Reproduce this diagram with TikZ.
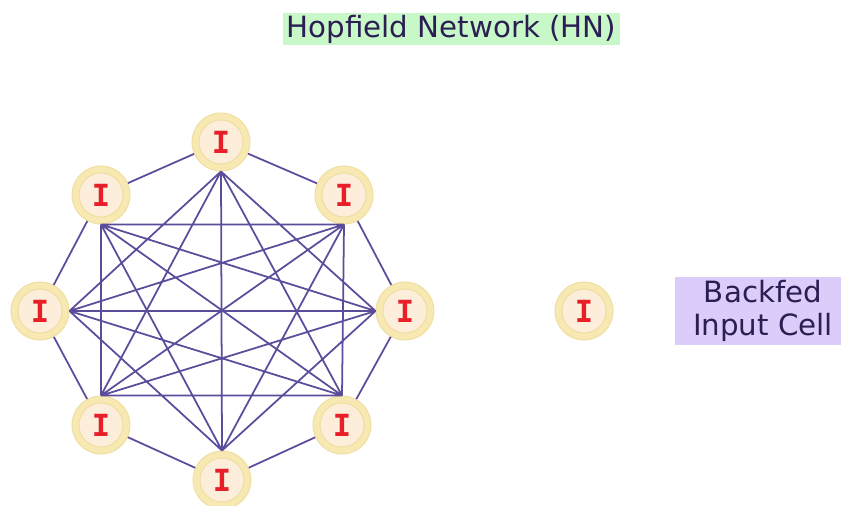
\documentclass[tikz,border=0pt]{standalone}
\usepackage{fontspec}
\setmainfont{DejaVu Sans}
\newfontfamily\cellfont{DejaVu Sans Mono}
\definecolor{edgecol}{RGB}{92,76,156}
\definecolor{ringout}{RGB}{238,222,160}
\definecolor{ringfill}{RGB}{248,232,178}
\definecolor{corefill}{RGB}{252,238,218}
\definecolor{coreline}{RGB}{238,222,160}
\definecolor{cellred}{RGB}{232,30,40}
\definecolor{titlebg}{RGB}{200,248,200}
\definecolor{labelbg}{RGB}{220,204,250}
\definecolor{inkcol}{RGB}{42,30,82}
\tikzset{
  cell/.style={circle, minimum size=1.74cm, inner sep=0pt,
    fill=ringfill, draw=ringout, line width=0.8pt,
    path picture={\draw[coreline, line width=0.8pt, fill=corefill]
      (path picture bounding box.center) circle (0.66cm);},
    font=\cellfont\bfseries\fontsize{26}{26}\selectfont, text=cellred},
  link/.style={draw=edgecol, line width=1.5pt},
  caption/.style={font=\fontsize{25}{28}\selectfont, text=inkcol, align=center}
}
\begin{document}
\begin{tikzpicture}[x=0.03cm,y=-0.03cm]
  \useasboundingbox[fill=white] (0,0) rectangle (845,505);
  % title
  \fill[titlebg] (283,13) rectangle (620,45);
  \node[caption] (title) at (451.5,29) {Hopfield Network (HN)};
  % cells
  \node[cell] (t)  at (221,142) {I};
  \node[cell] (tl) at (101,195) {I};
  \node[cell] (tr) at (344,195) {I};
  \node[cell] (l)  at (40,311)  {I};
  \node[cell] (r)  at (405,311) {I};
  \node[cell] (bl) at (101,425) {I};
  \node[cell] (br) at (342,425) {I};
  \node[cell] (b)  at (222,480) {I};
  % outer ring of connections
  \draw[link] (t) -- (tr) (tr) -- (r) (r) -- (br) (br) -- (b)
              (b) -- (bl) (bl) -- (l) (l) -- (tl) (tl) -- (t);
  % inner connections between non-neighbouring cells
  \draw[link] (t.south) -- (r.west)  (t.south) -- (br.north) (t.south) -- (b.north)
              (t.south) -- (bl.north) (t.south) -- (l.east)
              (tr.south) -- (br.north) (tr.south) -- (b.north) (tr.south) -- (bl.north)
              (tr.south) -- (l.east) (tr.south) -- (tl.south)
              (r.west) -- (b.north) (r.west) -- (bl.north) (r.west) -- (l.east)
              (r.west) -- (tl.south)
              (br.north) -- (bl.north) (br.north) -- (l.east) (br.north) -- (tl.south)
              (b.north) -- (l.east) (b.north) -- (tl.south)
              (bl.north) -- (tl.south);
  % legend
  \node[cell] (lone) at (584,311) {I};
  \fill[labelbg] (675,277) rectangle (841,345);
  \node[caption, inner sep=0pt] (lab) at (763,311) {Backfed\\Input Cell};
\end{tikzpicture}
\end{document}
